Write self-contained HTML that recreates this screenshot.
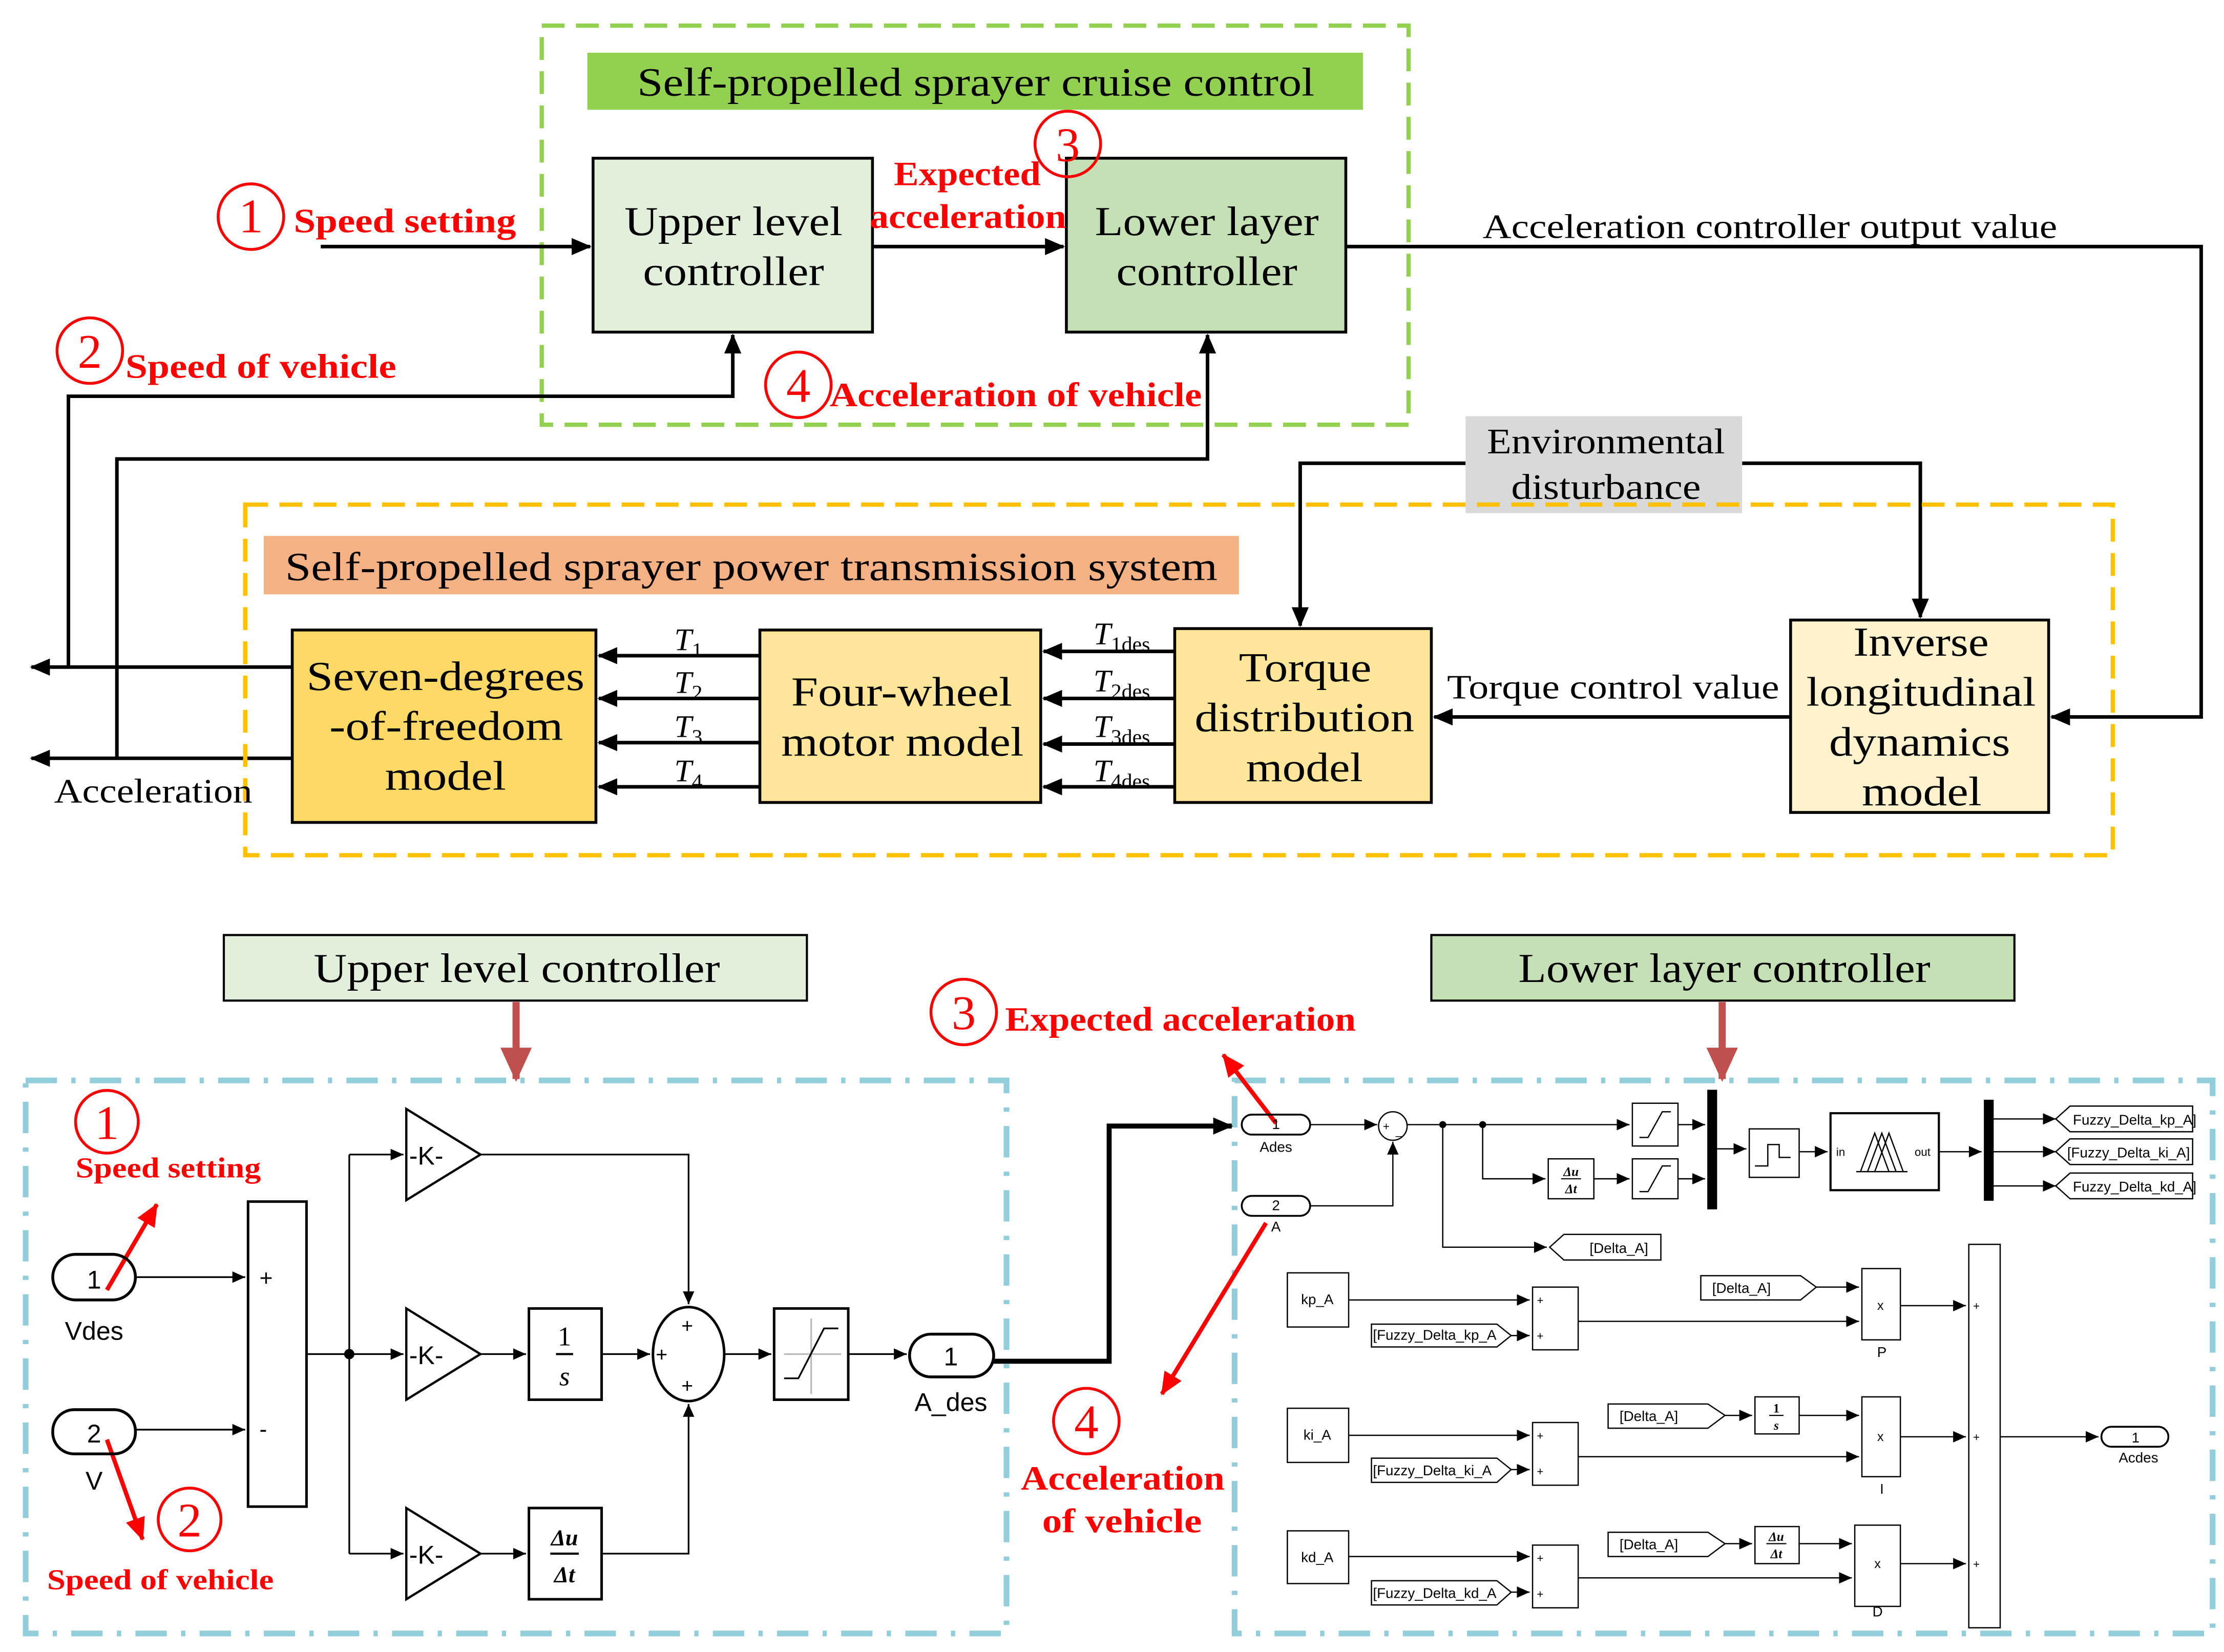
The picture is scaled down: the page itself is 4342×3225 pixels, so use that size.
<!DOCTYPE html>
<html><head><meta charset="utf-8"><style>html,body{margin:0;padding:0;background:#fff}svg{display:block}</style></head>
<body>
<svg width="4342" height="3225" viewBox="0 0 1560 1159" preserveAspectRatio="none" xmlns="http://www.w3.org/2000/svg">
<defs>
<marker id="a" markerUnits="userSpaceOnUse" markerWidth="14" markerHeight="12" refX="13" refY="6" orient="auto"><path d="M0,0L14,6L0,12z" fill="#000"/></marker>
<marker id="s" markerUnits="userSpaceOnUse" markerWidth="9" markerHeight="8" refX="9" refY="4" orient="auto"><path d="M0,0L9,4L0,8z" fill="#000"/></marker>
<marker id="r" markerUnits="userSpaceOnUse" markerWidth="16" markerHeight="14" refX="15" refY="7" orient="auto"><path d="M0,0L16,7L0,14z" fill="#f00"/></marker>
<marker id="b" markerUnits="userSpaceOnUse" markerWidth="24" markerHeight="22" refX="22" refY="11" orient="auto"><path d="M0,0L24,11L0,22z" fill="#c0504d"/></marker>
</defs>
<g font-family="Liberation Serif, serif" lengthAdjust="spacingAndGlyphs">
<rect x="380" y="18" width="608" height="280" fill="none" stroke="#92d050" stroke-width="3" stroke-dasharray="16,8"/>
<rect x="412" y="37" width="544" height="40" fill="#92d050"/>
<text x="447" y="67" font-size="28" textLength="475" lengthAdjust="spacingAndGlyphs">Self-propelled sprayer cruise control</text>
<rect x="416" y="111" width="196" height="122" fill="#e2efda" stroke="#000" stroke-width="2"/>
<text x="438" y="165" font-size="29" textLength="153" lengthAdjust="spacingAndGlyphs">Upper level</text>
<text x="451" y="200" font-size="29" textLength="127" lengthAdjust="spacingAndGlyphs">controller</text>
<rect x="748" y="111" width="196" height="122" fill="#c5e0b4" stroke="#000" stroke-width="2"/>
<text x="768" y="165" font-size="29" textLength="157" lengthAdjust="spacingAndGlyphs">Lower layer</text>
<text x="783" y="200" font-size="29" textLength="127" lengthAdjust="spacingAndGlyphs">controller</text>
<g stroke="#000" stroke-width="2.5" fill="none">
<path d="M225,173H414" marker-end="url(#a)"/>
<path d="M612,173H746" marker-end="url(#a)"/>
<path d="M944,173H1544V503H1439" marker-end="url(#a)"/>
<path d="M48,468V278H514V235" marker-end="url(#a)"/>
<path d="M82,532V322H847V235" marker-end="url(#a)"/>
<path d="M205,468H22" marker-end="url(#a)"/>
<path d="M205,532H22" marker-end="url(#a)"/>
<path d="M1028,325H912V439" marker-end="url(#a)"/>
<path d="M1222,325H1347V433" marker-end="url(#a)"/>
<path d="M1256,503H1006" marker-end="url(#a)"/>
<path d="M533,460H420" marker-end="url(#a)"/>
<path d="M533,490H420" marker-end="url(#a)"/>
<path d="M533,521H420" marker-end="url(#a)"/>
<path d="M533,552H420" marker-end="url(#a)"/>
<path d="M824,457H732" marker-end="url(#a)"/>
<path d="M824,490H732" marker-end="url(#a)"/>
<path d="M824,522H732" marker-end="url(#a)"/>
<path d="M824,552H732" marker-end="url(#a)"/>
</g>
<g fill="none" stroke="#f00" stroke-width="2">
<circle cx="176" cy="152" r="23"/><circle cx="749" cy="101" r="23"/><circle cx="63" cy="246" r="23"/><circle cx="560" cy="270" r="23"/>
</g>
<g fill="#f00" font-weight="bold" font-size="24">
<text x="176" y="163" text-anchor="middle" font-size="34" font-weight="normal">1</text>
<text x="749" y="113" text-anchor="middle" font-size="34" font-weight="normal">3</text>
<text x="63" y="258" text-anchor="middle" font-size="34" font-weight="normal">2</text>
<text x="560" y="282" text-anchor="middle" font-size="34" font-weight="normal">4</text>
<text x="206" y="163" textLength="156" lengthAdjust="spacingAndGlyphs">Speed setting</text>
<text x="627" y="130" textLength="103" lengthAdjust="spacingAndGlyphs">Expected</text>
<text x="610" y="160" textLength="138" lengthAdjust="spacingAndGlyphs">acceleration</text>
<text x="88" y="265" textLength="190" lengthAdjust="spacingAndGlyphs">Speed of vehicle</text>
<text x="582" y="285" textLength="261" lengthAdjust="spacingAndGlyphs">Acceleration of vehicle</text>
</g>
<text x="1040" y="167" font-size="24" textLength="403" lengthAdjust="spacingAndGlyphs">Acceleration controller output value</text>
<rect x="1028" y="292" width="194" height="68" fill="#d9d9d9"/>
<text x="1043" y="318" font-size="25" textLength="167" lengthAdjust="spacingAndGlyphs">Environmental</text>
<text x="1060" y="350" font-size="25" textLength="133" lengthAdjust="spacingAndGlyphs">disturbance</text>
<rect x="172" y="354" width="1310" height="246" fill="none" stroke="#ffc000" stroke-width="3" stroke-dasharray="16,8"/>
<rect x="185" y="376" width="684" height="41" fill="#f4b183"/>
<text x="200" y="407" font-size="28" textLength="654" lengthAdjust="spacingAndGlyphs">Self-propelled sprayer power transmission system</text>
<rect x="205" y="442" width="213" height="135" fill="#ffd966" stroke="#000" stroke-width="2"/>
<text x="215" y="484" font-size="29" textLength="195" lengthAdjust="spacingAndGlyphs">Seven-degrees</text>
<text x="231" y="519" font-size="29" textLength="164" lengthAdjust="spacingAndGlyphs">-of-freedom</text>
<text x="270" y="554" font-size="29" textLength="85" lengthAdjust="spacingAndGlyphs">model</text>
<rect x="533" y="442" width="197" height="121" fill="#ffe699" stroke="#000" stroke-width="2"/>
<text x="555" y="495" font-size="29" textLength="155" lengthAdjust="spacingAndGlyphs">Four-wheel</text>
<text x="548" y="530" font-size="29" textLength="170" lengthAdjust="spacingAndGlyphs">motor model</text>
<rect x="824" y="441" width="180" height="122" fill="#ffe699" stroke="#000" stroke-width="2"/>
<text x="869" y="478" font-size="29" textLength="93" lengthAdjust="spacingAndGlyphs">Torque</text>
<text x="838" y="513" font-size="29" textLength="154" lengthAdjust="spacingAndGlyphs">distribution</text>
<text x="874" y="548" font-size="29" textLength="82" lengthAdjust="spacingAndGlyphs">model</text>
<rect x="1256" y="435" width="181" height="135" fill="#fff2cc" stroke="#000" stroke-width="2"/>
<text x="1300" y="460" font-size="29" textLength="95" lengthAdjust="spacingAndGlyphs">Inverse</text>
<text x="1267" y="495" font-size="29" textLength="161" lengthAdjust="spacingAndGlyphs">longitudinal</text>
<text x="1283" y="530" font-size="29" textLength="127" lengthAdjust="spacingAndGlyphs">dynamics</text>
<text x="1306" y="565" font-size="29" textLength="84" lengthAdjust="spacingAndGlyphs">model</text>
<text x="1015" y="490" font-size="24" textLength="233" lengthAdjust="spacingAndGlyphs">Torque control value</text>
<text x="38" y="563" font-size="24" textLength="139" lengthAdjust="spacingAndGlyphs">Acceleration</text>
<g font-size="22" font-style="italic">
<text x="473" y="456">T<tspan font-size="15" dy="5" font-style="normal">1</tspan></text>
<text x="473" y="486">T<tspan font-size="15" dy="5" font-style="normal">2</tspan></text>
<text x="473" y="517">T<tspan font-size="15" dy="5" font-style="normal">3</tspan></text>
<text x="473" y="548">T<tspan font-size="15" dy="5" font-style="normal">4</tspan></text>
<text x="767" y="452">T<tspan font-size="15" dy="5" font-style="normal">1des</tspan></text>
<text x="767" y="485">T<tspan font-size="15" dy="5" font-style="normal">2des</tspan></text>
<text x="767" y="517">T<tspan font-size="15" dy="5" font-style="normal">3des</tspan></text>
<text x="767" y="548">T<tspan font-size="15" dy="5" font-style="normal">4des</tspan></text>
</g>
<rect x="157" y="656" width="409" height="46" fill="#e2efda" stroke="#000" stroke-width="1.5"/>
<text x="220" y="689" font-size="29" textLength="285" lengthAdjust="spacingAndGlyphs">Upper level controller</text>
<rect x="1004" y="656" width="409" height="46" fill="#c5e0b4" stroke="#000" stroke-width="1.5"/>
<text x="1065" y="689" font-size="29" textLength="289" lengthAdjust="spacingAndGlyphs">Lower layer controller</text>
<path d="M362,703V757" stroke="#c0504d" stroke-width="5" marker-end="url(#b)"/>
<path d="M1208,703V757" stroke="#c0504d" stroke-width="5" marker-end="url(#b)"/>
<rect x="18" y="758" width="688" height="388" fill="none" stroke="#92cddc" stroke-width="4" stroke-dasharray="22,10,3,10"/>
<rect x="866" y="758" width="686" height="388" fill="none" stroke="#92cddc" stroke-width="4" stroke-dasharray="22,10,3,10"/>
<g fill="none" stroke="#f00" stroke-width="2">
<circle cx="676" cy="710" r="23"/><circle cx="762" cy="997" r="23"/><circle cx="75" cy="787" r="22"/><circle cx="133" cy="1066" r="22"/>
</g>
<g fill="#f00" font-weight="bold" font-size="24">
<text x="676" y="722" text-anchor="middle" font-size="34" font-weight="normal">3</text>
<text x="762" y="1009" text-anchor="middle" font-size="34" font-weight="normal">4</text>
<text x="75" y="799" text-anchor="middle" font-size="34" font-weight="normal">1</text>
<text x="133" y="1078" text-anchor="middle" font-size="34" font-weight="normal">2</text>
<text x="705" y="723" textLength="246" lengthAdjust="spacingAndGlyphs">Expected acceleration</text>
<text x="716" y="1045" textLength="143" lengthAdjust="spacingAndGlyphs">Acceleration</text>
<text x="731" y="1075" textLength="112" lengthAdjust="spacingAndGlyphs">of vehicle</text>
<text x="53" y="826" font-size="20" textLength="130" lengthAdjust="spacingAndGlyphs">Speed setting</text>
<text x="33" y="1115" font-size="20" textLength="159" lengthAdjust="spacingAndGlyphs">Speed of vehicle</text>
</g>
<g stroke="#f00" stroke-width="3" fill="none">
<path d="M895,788L858,740" marker-end="url(#r)"/>
<path d="M888,858L815,978" marker-end="url(#r)"/>
<path d="M75,905L110,845" marker-end="url(#r)"/>
<path d="M75,1010L100,1080" marker-end="url(#r)"/>
</g>
<path d="M696,955H778V790H864" stroke="#000" stroke-width="3.5" fill="none" marker-end="url(#a)"/>
</g>
<g font-family="Liberation Sans, sans-serif" stroke="#000" stroke-width="1.2" fill="none">
<rect x="37" y="880" width="58" height="32" rx="16" stroke-width="2"/>
<rect x="37" y="989" width="58" height="31" rx="15" stroke-width="2"/>
<rect x="174" y="843" width="41" height="214" stroke-width="1.8"/>
<path d="M95,896H172" marker-end="url(#s)"/>
<path d="M95,1003H172" marker-end="url(#s)"/>
<path d="M215,950H283" marker-end="url(#s)"/>
<path d="M245,810H283" marker-end="url(#s)"/>
<path d="M245,1090H283" marker-end="url(#s)"/>
<path d="M245,810V1090"/>
<path d="M285,778L337,810L285,842z" stroke-width="1.6"/>
<path d="M285,918L337,950L285,982z" stroke-width="1.6"/>
<path d="M285,1058L337,1090L285,1122z" stroke-width="1.6"/>
<path d="M337,950H369" marker-end="url(#s)"/>
<path d="M337,1090H369" marker-end="url(#s)"/>
<rect x="371" y="918" width="51" height="64" stroke-width="1.8"/>
<rect x="371" y="1058" width="51" height="64" stroke-width="1.8"/>
<ellipse cx="483" cy="950" rx="25" ry="33" stroke-width="1.8"/>
<path d="M422,950H456" marker-end="url(#s)"/>
<path d="M337,810H483V915" marker-end="url(#s)"/>
<path d="M422,1090H483V985" marker-end="url(#s)"/>
<path d="M508,950H541" marker-end="url(#s)"/>
<rect x="543" y="918" width="52" height="64" stroke-width="1.8"/>
<path d="M550,950H590M569,925V978" stroke="#bbb"/>
<path d="M550,967H560L578,932H588"/>
<path d="M595,950H636" marker-end="url(#s)"/>
<rect x="638" y="936" width="59" height="30" rx="15" stroke-width="2"/>
<circle cx="245" cy="950" r="3" fill="#000"/>
</g>
<g font-family="Liberation Sans, sans-serif" fill="#000">
<text x="66" y="904" font-size="18" text-anchor="middle">1</text>
<text x="66" y="1012" font-size="18" text-anchor="middle">2</text>
<text x="66" y="940" font-size="18" text-anchor="middle">Vdes</text>
<text x="66" y="1045" font-size="18" text-anchor="middle">V</text>
<text x="182" y="902" font-size="16">+</text>
<text x="182" y="1008" font-size="16">-</text>
<text x="287" y="817" font-size="18">-K-</text>
<text x="287" y="957" font-size="18">-K-</text>
<text x="287" y="1097" font-size="18">-K-</text>
<text x="478" y="935" font-size="14">+</text>
<text x="460" y="955" font-size="14">+</text>
<text x="478" y="977" font-size="14">+</text>
<text x="667" y="958" font-size="18" text-anchor="middle">1</text>
<text x="667" y="990" font-size="18" text-anchor="middle">A_des</text>
</g>
<g font-family="Liberation Serif, serif" font-style="italic" font-weight="bold" text-anchor="middle">
<text x="396" y="944" font-size="19" font-style="normal" font-weight="normal">1</text>
<line x1="390" y1="950" x2="402" y2="950" stroke="#000" stroke-width="1.5"/>
<text x="396" y="972" font-size="19" font-weight="normal">s</text>
<text x="396" y="1084" font-size="16">Δu</text>
<line x1="386" y1="1090" x2="406" y2="1090" stroke="#000" stroke-width="1.5"/>
<text x="396" y="1110" font-size="16">Δt</text>
</g>
<g font-family="Liberation Sans, sans-serif" stroke="#000" stroke-width="0.9" fill="none">
<rect x="871" y="782" width="48" height="14" rx="7" stroke-width="1.3"/>
<rect x="871" y="839" width="48" height="14" rx="7" stroke-width="1.3"/>
<circle cx="977" cy="790" r="10"/>
<path d="M919,789H966" marker-end="url(#s)"/>
<path d="M919,846H977V801" marker-end="url(#s)"/>
<path d="M987,789H1143" marker-end="url(#s)"/>
<path d="M1040,789V827H1084" marker-end="url(#s)"/>
<path d="M1012,789V875H1085" marker-end="url(#s)"/>
<circle cx="1012" cy="789" r="2" fill="#000"/><circle cx="1040" cy="789" r="2" fill="#000"/>
<rect x="1145" y="774" width="32" height="30"/><rect x="1145" y="813" width="32" height="28"/>
<path d="M1150,798H1156L1166,780H1172M1150,836H1156L1166,818H1172"/>
<rect x="1086" y="813" width="32" height="28"/>
<path d="M1118,827H1143" marker-end="url(#s)"/>
<path d="M1177,789H1196" marker-end="url(#s)"/>
<path d="M1177,827H1196" marker-end="url(#s)"/>
<rect x="1198" y="765" width="6" height="83" fill="#000"/>
<path d="M1204,806H1225" marker-end="url(#s)"/>
<rect x="1227" y="792" width="35" height="34"/>
<path d="M1231,818H1240V803H1248V812H1256"/>
<path d="M1262,808H1282" marker-end="url(#s)"/>
<rect x="1284" y="781" width="76" height="54" stroke-width="1.5"/>
<path d="M1305,822L1315,795L1325,822M1310,822L1320,795L1330,822M1315,822L1325,795L1335,822M1302,822H1338"/>
<path d="M1360,808H1390" marker-end="url(#s)"/>
<rect x="1392" y="772" width="6" height="70" fill="#000"/>
<path d="M1398,785H1442" marker-end="url(#s)"/>
<path d="M1398,808H1442" marker-end="url(#s)"/>
<path d="M1398,832H1442" marker-end="url(#s)"/>
<path d="M1442,785L1452,776H1538V794H1452z"/>
<path d="M1442,808L1452,799H1538V817H1452z"/>
<path d="M1442,832L1452,823H1538V841H1452z"/>
<path d="M1087,875L1097,866H1165V884H1097z"/>
<rect x="903" y="893" width="43" height="38"/><rect x="903" y="988" width="43" height="38"/><rect x="903" y="1074" width="43" height="37"/>
<rect x="1075" y="903" width="32" height="44"/><rect x="1075" y="998" width="32" height="44"/><rect x="1075" y="1084" width="32" height="44"/>
<path d="M946,912H1073" marker-end="url(#s)"/><path d="M946,1007H1073" marker-end="url(#s)"/><path d="M946,1092H1073" marker-end="url(#s)"/>
<path d="M962,929H1050L1060,937L1050,945H962z"/><path d="M962,1023H1050L1060,1031L1050,1040H962z"/><path d="M962,1109H1050L1060,1117L1050,1126H962z"/>
<path d="M1060,937H1073" marker-end="url(#s)"/><path d="M1060,1031H1073" marker-end="url(#s)"/><path d="M1060,1117H1073" marker-end="url(#s)"/>
<path d="M1107,927H1304" marker-end="url(#s)"/><path d="M1107,1022H1304" marker-end="url(#s)"/><path d="M1107,1107H1299" marker-end="url(#s)"/>
<path d="M1193,895H1263L1274,903L1263,912H1193z"/>
<path d="M1274,903H1304" marker-end="url(#s)"/>
<path d="M1128,985H1198L1210,993L1198,1002H1128z"/>
<path d="M1210,993H1229" marker-end="url(#s)"/>
<rect x="1231" y="980" width="31" height="26"/>
<path d="M1262,993H1304" marker-end="url(#s)"/>
<path d="M1128,1075H1198L1210,1083L1198,1092H1128z"/>
<path d="M1210,1083H1229" marker-end="url(#s)"/>
<rect x="1231" y="1071" width="31" height="26"/>
<path d="M1262,1083H1299" marker-end="url(#s)"/>
<rect x="1306" y="890" width="27" height="50"/><rect x="1306" y="980" width="27" height="56"/><rect x="1301" y="1070" width="32" height="57"/>
<path d="M1333,916H1379" marker-end="url(#s)"/><path d="M1333,1008H1379" marker-end="url(#s)"/><path d="M1333,1097H1379" marker-end="url(#s)"/>
<rect x="1381" y="873" width="22" height="269"/>
<path d="M1403,1008H1472" marker-end="url(#s)"/>
<rect x="1474" y="1001" width="47" height="14" rx="7" stroke-width="1.3"/>
</g>
<g font-family="Liberation Sans, sans-serif" fill="#000" font-size="10">
<text x="895" y="792" text-anchor="middle">1</text><text x="895" y="808" text-anchor="middle">Ades</text>
<text x="895" y="849" text-anchor="middle">2</text><text x="895" y="864" text-anchor="middle">A</text>
<text x="970" y="793" font-size="8">+</text><text x="979" y="796" font-size="8">_</text>
<text x="1288" y="811" font-size="8">in</text><text x="1343" y="811" font-size="8">out</text>
<text x="1454" y="789">Fuzzy_Delta_kp_A]</text>
<text x="1450" y="812">[Fuzzy_Delta_ki_A]</text>
<text x="1454" y="836">Fuzzy_Delta_kd_A]</text>
<text x="1115" y="879">[Delta_A]</text>
<text x="1201" y="907">[Delta_A]</text>
<text x="1136" y="997">[Delta_A]</text>
<text x="1136" y="1087">[Delta_A]</text>
<text x="924" y="915" text-anchor="middle">kp_A</text><text x="924" y="1010" text-anchor="middle">ki_A</text><text x="924" y="1096" text-anchor="middle">kd_A</text>
<text x="963" y="940">[Fuzzy_Delta_kp_A</text><text x="963" y="1035">[Fuzzy_Delta_ki_A</text><text x="963" y="1121">[Fuzzy_Delta_kd_A</text>
<g font-size="8"><text x="1078" y="915">+</text><text x="1078" y="940">+</text><text x="1078" y="1010">+</text><text x="1078" y="1035">+</text><text x="1078" y="1096">+</text><text x="1078" y="1121">+</text>
<text x="1384" y="919">+</text><text x="1384" y="1011">+</text><text x="1384" y="1100">+</text></g>
<text x="1319" y="919" text-anchor="middle" font-size="9">x</text><text x="1319" y="1011" text-anchor="middle" font-size="9">x</text><text x="1317" y="1100" text-anchor="middle" font-size="9">x</text>
<text x="1320" y="952" text-anchor="middle">P</text><text x="1320" y="1048" text-anchor="middle">I</text><text x="1317" y="1134" text-anchor="middle">D</text>
<text x="1498" y="1012" text-anchor="middle">1</text><text x="1500" y="1026" text-anchor="middle">Acdes</text>
</g>
<g font-family="Liberation Serif, serif" font-style="italic" font-weight="bold" font-size="9" text-anchor="middle" fill="#000">
<text x="1102" y="825">Δu</text><line x1="1095" y1="827" x2="1109" y2="827" stroke="#000" stroke-width="0.8"/><text x="1102" y="837">Δt</text>
<text x="1246" y="991" font-style="normal">1</text><line x1="1241" y1="993" x2="1251" y2="993" stroke="#000" stroke-width="0.8"/><text x="1246" y="1003">s</text>
<text x="1246" y="1081">Δu</text><line x1="1239" y1="1083" x2="1253" y2="1083" stroke="#000" stroke-width="0.8"/><text x="1246" y="1093">Δt</text>
</g>
</svg>
</body></html>
